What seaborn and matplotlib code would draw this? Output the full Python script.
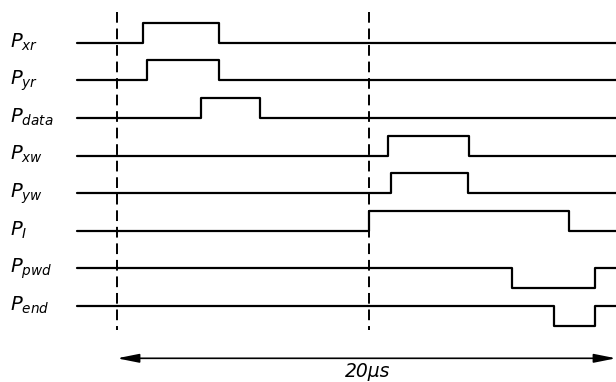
import matplotlib
matplotlib.use("Agg")
import matplotlib.pyplot as plt
import seaborn as sns
import pandas as pd

# ---- data (times in microseconds) ----
signals = ["xr", "yr", "data", "xw", "yw", "I", "pwd", "end"]
labels = [r"$P_{xr}$", r"$P_{yr}$", r"$P_{data}$", r"$P_{xw}$",
          r"$P_{yw}$", r"$P_{I}$", r"$P_{pwd}$", r"$P_{end}$"]
pulse_start = [1.05, 1.2, 3.35, 10.85, 11.0, 10.1, 15.85, 17.5]
pulse_end = [4.1, 4.1, 5.75, 14.1, 14.05, 18.1, 19.15, 19.15]
pulse_level = [1, 1, 1, 1, 1, 1, -1, -1]   # +1 active high, -1 active low
t_begin = -1.6
t_finish = 20.0
markers_t = [0.0, 10.1]        # dashed reference lines
span_label = "20μs"
span_start, span_end = 0.0, 20.0

amp = 0.53
rows = []
for i, (s, a, b, lv) in enumerate(zip(signals, pulse_start, pulse_end, pulse_level)):
    base = -i
    for t, v in [(t_begin, base), (a, base + lv * amp), (b, base), (t_finish, base)]:
        rows.append({"signal": s, "t": t, "v": v})
df = pd.DataFrame(rows)

sns.set_theme(style="white")
plt.rcParams["mathtext.fontset"] = "dejavusans"

fig = plt.figure(figsize=(6.16, 3.82), dpi=100)
ax = fig.add_axes([0, 0, 1, 1])

sns.lineplot(data=df, x="t", y="v", hue="signal", units="signal",
             estimator=None, sort=False, palette=["black"] * len(signals),
             drawstyle="steps-post", linewidth=1.6, legend=False, ax=ax)

for i, lab in enumerate(labels):
    ax.text(-4.3, -i - 0.12, lab, fontsize=14, va="baseline", ha="left", color="black")

for mt in markers_t:
    ax.plot([mt, mt], [0.82, -7.64], color="black", lw=1.4,
            linestyle=(0, (5.5, 3.0)))

y_arrow = -8.39
ax.annotate("", xy=(span_start, y_arrow), xytext=(span_end, y_arrow),
            arrowprops=dict(arrowstyle="<|-|>,head_length=1.1,head_width=0.22",
                            color="black", lw=1.2, shrinkA=0, shrinkB=0),
            annotation_clip=False)
ax.text(10.06, -8.9, span_label, fontsize=13.5, style="italic",
        ha="center", va="baseline", color="black")

ax.set_xlim(-4.69, 20.0)
ax.set_ylim(-9.02, 1.136)
ax.axis("off")

fig.savefig("out.png", dpi=100, facecolor="white")
